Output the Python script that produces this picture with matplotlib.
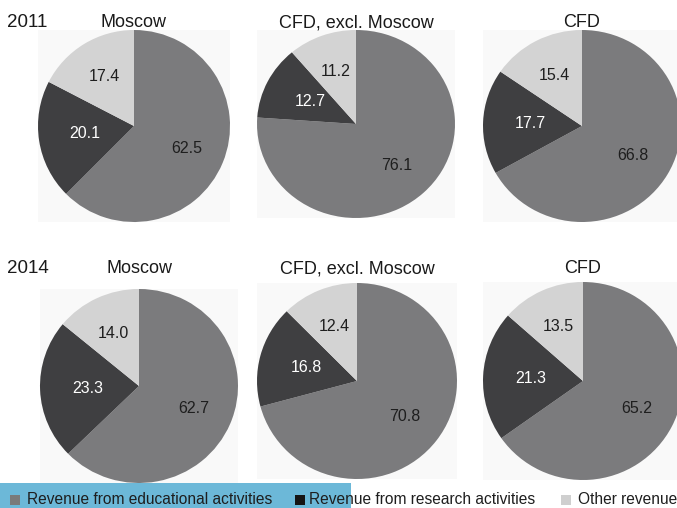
import numpy as np
import matplotlib
matplotlib.use("Agg")
import matplotlib.pyplot as plt
from matplotlib.patches import Rectangle

plt.rcParams['font.family'] = ['Liberation Sans', 'DejaVu Sans']

# Revenue structure of universities, % of total
years = ["2011", "2014"]
regions = ["Moscow", "CFD, excl. Moscow", "CFD"]
categories = ["Revenue from educational activities",
              "Revenue from research activities",
              "Other revenue"]
educational = {"2011": [62.5, 76.1, 66.8], "2014": [62.7, 70.8, 65.2]}
research = {"2011": [20.1, 12.7, 17.7], "2014": [23.3, 16.8, 21.3]}
other = {"2011": [17.4, 11.2, 15.4], "2014": [14.0, 12.4, 13.5]}

W, H = 677, 508
fig = plt.figure(figsize=(W / 100, H / 100), dpi=100)

pie_colors = ["#7b7b7d", "#3f3f41", "#d3d3d3"]
legend_colors = ["#7a7a7a", "#151515", "#cfcfcf"]
label_colors = ["#1e1e1e", "#ffffff", "#1e1e1e"]
label_dist = [0.6, 0.52, 0.6]

# pixel geometry of each pie: centre x, centre y, radius x, radius y
geometry = {
    "2011": [(134, 126, 96, 96), (356, 124, 99, 94), (582, 126, 99, 96)],
    "2014": [(139, 386, 99, 97), (357, 381, 100, 98), (583, 381, 100, 99)],
}
title_base = {"2011": 27, "2014": 273}


def fx(px):
    return px / W


def fy(py):
    return 1 - py / H


for year in years:
    fig.text(fx(7), fy(title_base[year]), year, fontsize=13.5, color="#1a1a1a",
             ha="left", va="baseline")
    for i, region in enumerate(regions):
        cx, cy, rx, ry = geometry[year][i]
        # faint backing square behind each pie
        fig.add_artist(Rectangle((fx(cx - rx), fy(cy + ry)), fx(2 * rx), 2 * ry / H,
                                 transform=fig.transFigure, facecolor="#f9f9f9",
                                 edgecolor="none", zorder=0))
        ax = fig.add_axes([fx(cx - rx), fy(cy + ry), fx(2 * rx), 2 * ry / H])
        vals = [educational[year][i], research[year][i], other[year][i]]
        wedges, _ = ax.pie(vals, colors=pie_colors, startangle=90, counterclock=False,
                           radius=1, wedgeprops=dict(linewidth=0))
        ax.set_aspect("auto")
        ax.set_xlim(-1, 1)
        ax.set_ylim(-1, 1)
        ax.set_axis_off()
        for w, v, d, c in zip(wedges, vals, label_dist, label_colors):
            mid = np.deg2rad((w.theta1 + w.theta2) / 2)
            ax.text(d * np.cos(mid), d * np.sin(mid), f"{v:.1f}", fontsize=11.5,
                    color=c, ha="center", va="center")
        fig.text(fx(cx), fy(title_base[year]), region, fontsize=13, color="#1a1a1a",
                 ha="center", va="baseline")

# legend strip along the bottom
fig.add_artist(Rectangle((0, 0), fx(351), 25 / H, transform=fig.transFigure,
                         facecolor="#6cb8d8", edgecolor="none", zorder=5))
legend_x = [(10, 27), (295, 309), (561, 578)]
for (sx, tx), label, col in zip(legend_x, categories, legend_colors):
    fig.add_artist(Rectangle((fx(sx), fy(505)), fx(10), 10 / H,
                             transform=fig.transFigure, facecolor=col,
                             edgecolor="none", zorder=6))
    fig.text(fx(tx), fy(500), label, fontsize=11.2, color="#1e1e1e",
             ha="left", va="center", zorder=7)

fig.savefig("out.png", dpi=100)
